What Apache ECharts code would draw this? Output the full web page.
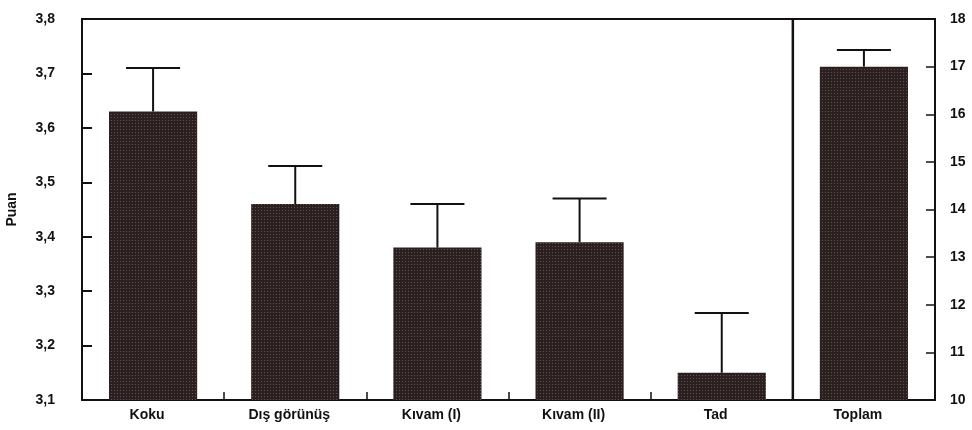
<!DOCTYPE html>
<html>
<head>
<meta charset="utf-8">
<script src="https://cdn.jsdelivr.net/npm/echarts@6/dist/echarts.min.js"></script>
<style>
  html, body { margin: 0; padding: 0; background: #fff; }
  #chart { width: 972px; height: 430px; }
</style>
</head>
<body>
<div id="chart"></div>
<script>
// Sensory scores (Puan): five attributes on the left scale, total on the right scale
const categories = ['Koku', 'Dış görünüş', 'Kıvam (I)', 'Kıvam (II)', 'Tad', 'Toplam'];
const attributeMeans = [3.63, 3.46, 3.38, 3.39, 3.15];
const attributeUpper = [3.71, 3.53, 3.46, 3.47, 3.26];
const totalMean = [17.0];
const totalUpper = [17.35];
const leftRange = [3.1, 3.8, 0.1];
const rightRange = [10, 18, 1];

const ink = '#141010';
const barFill = '#2b1f1f';
const font = 'Liberation Sans, Arial, sans-serif';

const chart = echarts.init(document.getElementById('chart'));

const barDecal = {
  symbol: 'rect',
  symbolSize: 1,
  dashArrayX: [1, 2],
  dashArrayY: [1, 2],
  rotation: 0,
  color: 'rgba(255,255,255,0.24)'
};

// Error bar: vertical stem from the mean up to the upper value, with a cap
function errorBar(params, api) {
  const x = api.value(0);
  const base = api.coord([x, api.value(1)]);
  const top = api.coord([x, api.value(2)]);
  const half = api.size([1, 0])[0] * 0.19;
  const style = { stroke: ink, lineWidth: 2 };
  return {
    type: 'group',
    children: [
      { type: 'line', shape: { x1: base[0], y1: base[1], x2: top[0], y2: top[1] }, style },
      { type: 'line', shape: { x1: top[0] - half, y1: top[1], x2: top[0] + half, y2: top[1] }, style }
    ]
  };
}

// Divider between the attribute block and the total
function divider(params, api) {
  const band = api.size([1, 0])[0];
  const p = api.coord([api.value(0), api.value(1)]);
  const cs = params.coordSys;
  const x = p[0] - band / 2;
  return {
    type: 'line',
    shape: { x1: x, y1: cs.y, x2: x, y2: cs.y + cs.height },
    style: { stroke: ink, lineWidth: 2.5 }
  };
}

const attrBars = attributeMeans.slice();
const totalBars = categories.map((c, i) => (i === categories.length - 1 ? totalMean[0] : null));
const attrErr = attributeMeans.map((v, i) => [i, v, attributeUpper[i]]);
const totalErr = [[categories.length - 1, totalMean[0], totalUpper[0]]];

const labelText = { color: '#111', fontFamily: font, fontSize: 14, fontWeight: 'bold' };

chart.setOption({
  animation: false,
  aria: { enabled: true, decal: { show: true } },
  grid: {
    left: 82, right: 37, top: 19, bottom: 30,
    outerBoundsMode: 'none',
    show: true, borderColor: ink, borderWidth: 2, backgroundColor: 'transparent'
  },
  xAxis: {
    type: 'category',
    data: categories,
    axisLine: { show: true, lineStyle: { color: ink, width: 2 } },
    axisTick: { show: true, inside: true, length: 8, interval: 0, lineStyle: { color: ink, width: 1.5 } },
    axisLabel: Object.assign({ margin: 8, interval: 0, padding: [0, 12, 0, 0] }, labelText),
    splitLine: { show: false }
  },
  yAxis: [
    {
      type: 'value',
      min: leftRange[0], max: leftRange[1], interval: leftRange[2],
      position: 'left',
      name: 'Puan', nameLocation: 'middle', nameRotate: 90, nameGap: 63,
      nameTextStyle: labelText,
      axisLine: { show: true, lineStyle: { color: ink, width: 2 } },
      axisTick: { show: true, inside: true, length: 10, lineStyle: { color: ink, width: 2 } },
      axisLabel: Object.assign({
        margin: 27,
        formatter: v => v.toFixed(1).replace('.', ',')
      }, labelText),
      splitLine: { show: false }
    },
    {
      type: 'value',
      min: rightRange[0], max: rightRange[1], interval: rightRange[2],
      position: 'right',
      axisLine: { show: true, lineStyle: { color: ink, width: 2 } },
      axisTick: { show: true, inside: true, length: 9, lineStyle: { color: ink, width: 1.5 } },
      axisLabel: Object.assign({ margin: 15 }, labelText),
      splitLine: { show: false }
    }
  ],
  series: [
    {
      name: 'Nitelik', type: 'bar', yAxisIndex: 0, data: attrBars,
      barWidth: '62%', barGap: '-100%',
      itemStyle: { color: barFill, decal: barDecal }
    },
    {
      name: 'Toplam', type: 'bar', yAxisIndex: 1, data: totalBars,
      barWidth: '62%', barGap: '-100%',
      itemStyle: { color: barFill, decal: barDecal }
    },
    {
      name: 'Nitelik hata', type: 'custom', yAxisIndex: 0, data: attrErr,
      renderItem: errorBar, encode: { x: 0, y: [1, 2] }, z: 5
    },
    {
      name: 'Toplam hata', type: 'custom', yAxisIndex: 1, data: totalErr,
      renderItem: errorBar, encode: { x: 0, y: [1, 2] }, z: 5
    },
    {
      name: 'Ayırıcı', type: 'custom', yAxisIndex: 0, data: [[categories.length - 1, leftRange[0]]],
      renderItem: divider, encode: { x: 0, y: 1 }, z: 6
    }
  ]
});
</script>
</body>
</html>
